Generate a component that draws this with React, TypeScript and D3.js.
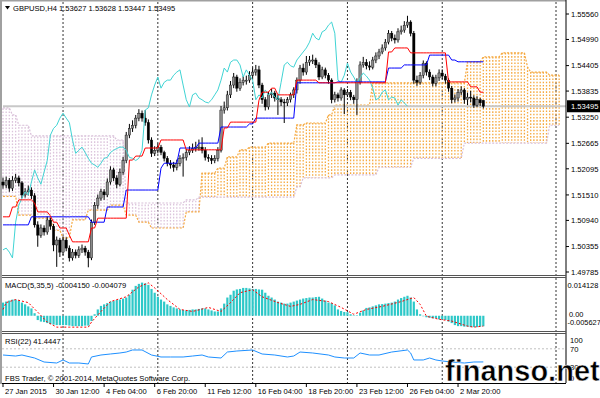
import * as d3 from 'd3';

// GBPUSD H4 candles [open, high, low, close], first bar = 27 Jan 2015 20:00
const candles: [number, number, number, number][] = [
  [1.5180, 1.5190, 1.5165, 1.5173], [1.5173, 1.5192, 1.5166, 1.5184], [1.5184, 1.5189, 1.5158, 1.5166],
  [1.5166, 1.5193, 1.5160, 1.5184], [1.5184, 1.5198, 1.5178, 1.5189], [1.5189, 1.5194, 1.5170, 1.5178],
  [1.5178, 1.5182, 1.5144, 1.5151], [1.5151, 1.5166, 1.5145, 1.5158], [1.5158, 1.5172, 1.5150, 1.5162],
  [1.5162, 1.5168, 1.5142, 1.5149], [1.5149, 1.5155, 1.5078, 1.5084], [1.5084, 1.5092, 1.5035, 1.5061],
  [1.5061, 1.5085, 1.5055, 1.5077], [1.5077, 1.5083, 1.5060, 1.5068], [1.5068, 1.5103, 1.5062, 1.5095],
  [1.5095, 1.5100, 1.5073, 1.5081], [1.5081, 1.5086, 1.5025, 1.5039], [1.5039, 1.5058, 1.4990, 1.5050],
  [1.5050, 1.5055, 1.5012, 1.5023], [1.5023, 1.5058, 1.5016, 1.5050], [1.5050, 1.5056, 1.5025, 1.5032],
  [1.5032, 1.5038, 1.5002, 1.5010], [1.5010, 1.5030, 1.5004, 1.5023], [1.5023, 1.5029, 1.5009, 1.5016],
  [1.5016, 1.5036, 1.5010, 1.5028], [1.5028, 1.5040, 1.5021, 1.5032], [1.5032, 1.5037, 1.5015, 1.5023],
  [1.5023, 1.5028, 1.4989, 1.5010], [1.5010, 1.5096, 1.5005, 1.5090], [1.5090, 1.5135, 1.5084, 1.5128],
  [1.5128, 1.5152, 1.5120, 1.5144], [1.5144, 1.5165, 1.5138, 1.5158], [1.5158, 1.5164, 1.5140, 1.5151],
  [1.5151, 1.5188, 1.5146, 1.5180], [1.5180, 1.5215, 1.5174, 1.5207], [1.5207, 1.5212, 1.5182, 1.5189],
  [1.5189, 1.5195, 1.5166, 1.5175], [1.5175, 1.5210, 1.5170, 1.5202], [1.5202, 1.5236, 1.5196, 1.5228],
  [1.5228, 1.5292, 1.5222, 1.5285], [1.5285, 1.5310, 1.5278, 1.5300], [1.5300, 1.5318, 1.5292, 1.5307],
  [1.5307, 1.5330, 1.5300, 1.5323], [1.5323, 1.5343, 1.5316, 1.5334], [1.5334, 1.5340, 1.5315, 1.5323],
  [1.5323, 1.5341, 1.5306, 1.5313], [1.5313, 1.5320, 1.5266, 1.5274], [1.5274, 1.5280, 1.5236, 1.5244],
  [1.5244, 1.5260, 1.5238, 1.5251], [1.5251, 1.5266, 1.5244, 1.5258], [1.5258, 1.5263, 1.5240, 1.5246],
  [1.5246, 1.5250, 1.5226, 1.5233], [1.5233, 1.5238, 1.5215, 1.5222], [1.5222, 1.5229, 1.5210, 1.5218],
  [1.5218, 1.5225, 1.5203, 1.5213], [1.5213, 1.5230, 1.5206, 1.5222], [1.5222, 1.5240, 1.5215, 1.5233],
  [1.5233, 1.5244, 1.5192, 1.5235], [1.5235, 1.5254, 1.5228, 1.5246], [1.5246, 1.5260, 1.5240, 1.5251],
  [1.5251, 1.5266, 1.5245, 1.5255], [1.5255, 1.5270, 1.5248, 1.5258], [1.5258, 1.5275, 1.5250, 1.5258],
  [1.5258, 1.5280, 1.5244, 1.5251], [1.5251, 1.5258, 1.5228, 1.5235], [1.5235, 1.5242, 1.5225, 1.5233],
  [1.5233, 1.5240, 1.5220, 1.5228], [1.5228, 1.5240, 1.5222, 1.5233], [1.5233, 1.5258, 1.5226, 1.5251],
  [1.5251, 1.5350, 1.5246, 1.5341], [1.5341, 1.5360, 1.5333, 1.5346], [1.5346, 1.5384, 1.5340, 1.5375],
  [1.5375, 1.5406, 1.5368, 1.5397], [1.5397, 1.5424, 1.5390, 1.5415], [1.5415, 1.5420, 1.5382, 1.5390],
  [1.5390, 1.5412, 1.5384, 1.5403], [1.5403, 1.5417, 1.5396, 1.5408], [1.5408, 1.5418, 1.5398, 1.5408],
  [1.5408, 1.5428, 1.5402, 1.5419], [1.5419, 1.5436, 1.5412, 1.5426], [1.5426, 1.5442, 1.5418, 1.5431],
  [1.5431, 1.5440, 1.5390, 1.5397], [1.5397, 1.5402, 1.5355, 1.5364], [1.5364, 1.5370, 1.5340, 1.5348],
  [1.5348, 1.5382, 1.5342, 1.5375], [1.5375, 1.5388, 1.5368, 1.5379], [1.5379, 1.5384, 1.5360, 1.5368],
  [1.5368, 1.5375, 1.5330, 1.5364], [1.5364, 1.5370, 1.5350, 1.5359], [1.5359, 1.5366, 1.5312, 1.5357],
  [1.5357, 1.5370, 1.5350, 1.5364], [1.5364, 1.5380, 1.5358, 1.5375], [1.5375, 1.5392, 1.5368, 1.5386],
  [1.5386, 1.5414, 1.5378, 1.5408], [1.5408, 1.5442, 1.5400, 1.5435], [1.5435, 1.5445, 1.5418, 1.5426],
  [1.5426, 1.5462, 1.5420, 1.5448], [1.5448, 1.5462, 1.5440, 1.5453], [1.5453, 1.5465, 1.5444, 1.5453],
  [1.5453, 1.5458, 1.5435, 1.5442], [1.5442, 1.5448, 1.5408, 1.5415], [1.5415, 1.5438, 1.5410, 1.5431],
  [1.5431, 1.5436, 1.5412, 1.5419], [1.5419, 1.5424, 1.5400, 1.5408], [1.5408, 1.5412, 1.5356, 1.5364],
  [1.5364, 1.5382, 1.5358, 1.5375], [1.5375, 1.5380, 1.5360, 1.5368], [1.5368, 1.5392, 1.5362, 1.5386],
  [1.5386, 1.5390, 1.5332, 1.5375], [1.5375, 1.5388, 1.5370, 1.5381], [1.5381, 1.5386, 1.5363, 1.5370],
  [1.5370, 1.5375, 1.5355, 1.5364], [1.5364, 1.5412, 1.5330, 1.5403], [1.5403, 1.5450, 1.5398, 1.5442],
  [1.5442, 1.5460, 1.5436, 1.5448], [1.5448, 1.5455, 1.5432, 1.5440], [1.5440, 1.5450, 1.5430, 1.5437],
  [1.5437, 1.5460, 1.5432, 1.5453], [1.5453, 1.5470, 1.5446, 1.5462], [1.5462, 1.5478, 1.5455, 1.5471],
  [1.5471, 1.5488, 1.5466, 1.5480], [1.5480, 1.5500, 1.5474, 1.5493], [1.5493, 1.5520, 1.5488, 1.5513],
  [1.5513, 1.5518, 1.5495, 1.5502], [1.5502, 1.5510, 1.5490, 1.5498], [1.5498, 1.5524, 1.5492, 1.5516],
  [1.5516, 1.5530, 1.5510, 1.5520], [1.5520, 1.5540, 1.5514, 1.5531], [1.5531, 1.5552, 1.5525, 1.5538],
  [1.5538, 1.5542, 1.5506, 1.5513], [1.5513, 1.5518, 1.5400, 1.5408], [1.5408, 1.5418, 1.5395, 1.5403],
  [1.5403, 1.5426, 1.5398, 1.5419], [1.5419, 1.5452, 1.5412, 1.5446], [1.5446, 1.5450, 1.5418, 1.5426],
  [1.5426, 1.5432, 1.5408, 1.5415], [1.5415, 1.5420, 1.5394, 1.5401], [1.5401, 1.5420, 1.5394, 1.5413],
  [1.5413, 1.5432, 1.5406, 1.5424], [1.5424, 1.5432, 1.5410, 1.5417], [1.5417, 1.5422, 1.5400, 1.5408],
  [1.5408, 1.5412, 1.5382, 1.5390], [1.5390, 1.5395, 1.5356, 1.5364], [1.5364, 1.5376, 1.5358, 1.5368],
  [1.5368, 1.5388, 1.5360, 1.5381], [1.5381, 1.5394, 1.5374, 1.5386], [1.5386, 1.5390, 1.5355, 1.5364],
  [1.5364, 1.5380, 1.5352, 1.5370], [1.5370, 1.5384, 1.5358, 1.5368], [1.5368, 1.5374, 1.5346, 1.5352],
  [1.5352, 1.5372, 1.5348, 1.5364], [1.5364, 1.5368, 1.5350, 1.5357], [1.53627, 1.53628, 1.53447, 1.53495],
];

// Ichimoku lines as steps: bar where the level starts, and the level
const tenkanFrom = [0, 3, 5, 10, 11, 15, 16, 18, 21, 22, 28, 30, 40, 42, 45, 50, 58, 70, 72, 81, 82, 85, 87, 93, 100, 122, 124, 129, 141, 148, 151];
const tenkanVal = [1.5102, 1.5124, 1.5140, 1.5133, 1.5113, 1.5104, 1.5090, 1.5077, 1.5061, 1.5046, 1.5077, 1.5099, 1.5229, 1.5238, 1.5256, 1.5274, 1.5252, 1.5301, 1.5314, 1.5363, 1.5381, 1.5390, 1.5375, 1.5408, 1.5402, 1.5471, 1.5480, 1.5469, 1.5404, 1.5393, 1.5381];
const kijunFrom = [0, 9, 28, 33, 39, 50, 51, 56, 62, 69, 78, 80, 93, 106, 122, 127, 135, 142, 144];
const kijunVal = [1.5084, 1.5102, 1.5090, 1.5124, 1.5162, 1.5211, 1.5222, 1.5256, 1.5267, 1.5303, 1.5310, 1.5323, 1.5402, 1.5404, 1.5435, 1.5442, 1.5464, 1.5453, 1.5449];
// Senkou spans, already in their displayed (shifted) bar positions
const spanAFrom = [0, 5, 10, 16, 19, 22, 27, 34, 39, 43, 47, 58, 63, 68, 71, 75, 78, 84, 93, 96, 103, 105, 117, 147, 152, 158, 166, 167, 173];
const spanAVal = [1.5148, 1.5106, 1.5099, 1.5072, 1.5055, 1.5095, 1.5117, 1.5128, 1.5106, 1.5090, 1.5077, 1.5113, 1.5200, 1.5211, 1.5236, 1.5252, 1.5258, 1.5267, 1.5308, 1.5312, 1.5330, 1.5352, 1.5402, 1.5449, 1.5460, 1.5469, 1.5437, 1.5426, 1.5419];
const spanBFrom = [0, 3, 5, 9, 36, 39, 58, 62, 93, 95, 105, 119, 130, 146, 173];
const spanBVal = [1.5346, 1.5330, 1.5307, 1.5283, 1.5274, 1.5133, 1.5140, 1.5146, 1.5169, 1.5189, 1.5196, 1.5213, 1.5233, 1.5267, 1.5307];
const SHIFT = 24;
const CLOUD_END = 176;

const macdHist = [
  0.0052, 0.0056, 0.0060, 0.0064, 0.0064, 0.0060, 0.0052, 0.0045, 0.0037, 0.0029,
  0.0010, -0.0017, -0.0023, -0.0025, -0.0029, -0.0033, -0.0035, -0.0037, -0.0037, -0.0037,
  -0.0037, -0.0039, -0.0041, -0.0041, -0.0041, -0.0041, -0.0039, -0.0039, -0.0021, 0.0006,
  0.0025, 0.0039, 0.0045, 0.0050, 0.0056, 0.0058, 0.0062, 0.0064, 0.0068, 0.0072,
  0.0083, 0.0103, 0.0118, 0.0126, 0.0131, 0.0128, 0.0122, 0.0106, 0.0091, 0.0075,
  0.0064, 0.0056, 0.0045, 0.0039, 0.0033, 0.0029, 0.0025, 0.0023, 0.0021, 0.0023,
  0.0025, 0.0025, 0.0027, 0.0029, 0.0029, 0.0025, 0.0021, 0.0017, 0.0017, 0.0029,
  0.0048, 0.0072, 0.0083, 0.0099, 0.0104, 0.0106, 0.0110, 0.0110, 0.0108, 0.0106,
  0.0106, 0.0104, 0.0103, 0.0091, 0.0079, 0.0072, 0.0064, 0.0056, 0.0052, 0.0048,
  0.0048, 0.0052, 0.0056, 0.0060, 0.0064, 0.0068, 0.0070, 0.0072, 0.0072, 0.0074,
  0.0075, 0.0068, 0.0060, 0.0052, 0.0050, 0.0041, 0.0025, 0.0019, 0.0015, 0.0014,
  0.0006, 0.0002, 0.0002, 0.0012, 0.0021, 0.0031, 0.0033, 0.0037, 0.0041, 0.0045,
  0.0046, 0.0048, 0.0050, 0.0052, 0.0056, 0.0064, 0.0070, 0.0075, 0.0079, 0.0072,
  0.0056, 0.0025, 0.0006, -0.0002, -0.0006, -0.0008, -0.0010, -0.0010, -0.0014, -0.0014,
  -0.0017, -0.0023, -0.0029, -0.0037, -0.0041, -0.0041, -0.0043, -0.0043, -0.0045, -0.0045,
  -0.0045, -0.0043, -0.00415,
];
const signalBar = [0, 1, 4, 8, 11, 14, 17, 21, 27, 28, 31, 34, 39, 43, 46, 48, 52, 56, 60, 65, 69, 72, 75, 79, 82, 87, 91, 94, 98, 103, 107, 111, 115, 120, 126, 130, 132, 134, 138, 142, 147, 149, 152];
const signalVal = [0.0025, 0.0052, 0.0064, 0.0052, 0.0014, -0.0025, -0.0045, -0.0045, -0.0045, -0.0025, 0.0017, 0.0056, 0.0075, 0.0114, 0.0130, 0.0110, 0.0064, 0.0025, 0.0017, 0.0033, 0.0017, 0.0052, 0.0091, 0.0103, 0.0075, 0.0052, 0.0037, 0.0045, 0.0064, 0.0056, 0.0033, 0.0006, 0.0025, 0.0037, 0.0056, 0.0072, 0.0045, -0.0002, -0.0014, -0.0021, -0.0041, -0.0045, -0.004079];

const rsiBar = [0, 4, 6, 10, 13, 17, 19, 21, 24, 27, 28, 31, 34, 37, 39, 41, 44, 47, 50, 53, 57, 60, 63, 65, 69, 71, 74, 79, 82, 86, 90, 92, 94, 98, 103, 105, 108, 111, 113, 116, 119, 123, 128, 129, 130, 133, 135, 137, 139, 142, 146, 149, 152];
const rsiVal = [56.5, 54.3, 56.5, 50, 41.3, 39.1, 45.7, 39.1, 39.1, 37, 52.2, 56.5, 58.7, 60.9, 63, 67.4, 67.4, 56.5, 52.2, 52.2, 52.2, 54.3, 56.5, 52.2, 50, 63, 65.2, 67.4, 58.7, 56.5, 52.2, 54.3, 63, 60.9, 56.5, 52.2, 50, 50, 60.9, 56.5, 56.5, 63, 67.4, 60.9, 45.7, 45.7, 50, 45.7, 43.5, 41.3, 39.1, 41.3, 41.4447];

const priceTicks = [1.55560, 1.54990, 1.54405, 1.53835, 1.53250, 1.52665, 1.52095, 1.51510, 1.50940, 1.50355, 1.49785];
const timeLabels = ['27 Jan 2015', '30 Jan 12:00', '4 Feb 04:00', '6 Feb 20:00', '11 Feb 12:00', '16 Feb 04:00', '18 Feb 20:00', '23 Feb 12:00', '26 Feb 04:00', '2 Mar 20:00'];
const LABEL_STEP = 16;
const gridBars = [19, 49, 79, 109, 139, 175];
const macdMax = 0.014128, macdMin = -0.005627;
const bid = 1.53495;

const W = 600, H = 398;
const RIGHT = 566;
const FONT = "'Liberation Sans', Arial, sans-serif";

const x = d3.scaleLinear().domain([0, 100]).range([3, 3 + 316]);
const y = d3.scaleLinear().domain([1.49785, 1.5556]).range([272, 14]);
const yM = d3.scaleLinear().domain([macdMin, macdMax]).range([330, 280]);
const yR = d3.scaleLinear().domain([0, 100]).range([381, 335]);

function expand(from: number[], val: number[], end: number): [number, number][] {
  const out: [number, number][] = [];
  let k = 0;
  for (let i = from[0]; i <= end; i++) {
    while (k + 1 < from.length && from[k + 1] <= i) k++;
    out.push([i, val[k]]);
  }
  return out;
}

export default function App() {
  const last = candles.length - 1;
  const tenkan = expand(tenkanFrom, tenkanVal, last);
  const kijun = expand(kijunFrom, kijunVal, last);
  const spanA = expand(spanAFrom, spanAVal, CLOUD_END);
  const spanB = expand(spanBFrom, spanBVal, CLOUD_END);
  const chikou: [number, number][] = candles.slice(SHIFT).map((c, i) => [i, c[3]]);

  const priceLine = d3.line<[number, number]>().x(d => x(d[0])).y(d => y(d[1]));
  const sigLine = d3.line<number>().x((_, i) => x(signalBar[i])).y(d => yM(d));
  const rsiLine = d3.line<number>().x((_, i) => x(rsiBar[i])).y(d => yR(d));

  return (
    <svg width={W} height={H} style={{ position: 'absolute', left: 0, top: 0, background: '#fff' }} fontFamily={FONT}>
      {/* window frame */}
      <rect x={0} y={0} width={2} height={384} fill="#a0a0a0" />
      <rect x={0} y={0} width={RIGHT} height={1.5} fill="#a0a0a0" />

      {/* vertical grid */}
      {gridBars.map(b => (
        <line key={b} x1={x(b)} x2={x(b)} y1={2} y2={383} stroke="#333" strokeWidth={1} strokeDasharray="2,2" />
      ))}

      {/* cloud */}
      {spanA.map((a, i) => {
        const b = spanB[i][1];
        return (
          <line key={'c' + i} x1={x(a[0])} x2={x(a[0])} y1={y(a[1])} y2={y(b)}
            stroke={a[1] >= b ? '#f5a940' : '#dcc4dc'} strokeWidth={1.3} strokeDasharray="1.6,1.6" />
        );
      })}
      <path d={priceLine(spanA) ?? ''} fill="none" stroke="#f5a940" strokeWidth={1.2} strokeDasharray="2,1.5" />
      <path d={priceLine(spanB) ?? ''} fill="none" stroke="#d8bfd8" strokeWidth={1.2} strokeDasharray="2,1.5" />

      {/* bid line */}
      <line x1={3} x2={RIGHT} y1={y(bid)} y2={y(bid)} stroke="#c8c8c8" strokeWidth={2} />

      {/* candles */}
      {candles.map((c, i) => {
        const [o, h, l, cl] = c;
        const up = cl >= o;
        const top = y(Math.max(o, cl));
        const bh = Math.max(1, y(Math.min(o, cl)) - top);
        return (
          <g key={'k' + i}>
            <line x1={x(i)} x2={x(i)} y1={y(h)} y2={y(l)} stroke="#000" strokeWidth={1} />
            <rect x={x(i) - 1.2} y={top} width={2.4} height={bh} fill={up ? '#8a8a8a' : '#000'} stroke="#000" strokeWidth={0.4} />
          </g>
        );
      })}

      {/* ichimoku lines */}
      <path d={priceLine(chikou) ?? ''} fill="none" stroke="#40d4d4" strokeWidth={1} />
      <path d={priceLine(kijun) ?? ''} fill="none" stroke="#0000ff" strokeWidth={1} />
      <path d={priceLine(tenkan) ?? ''} fill="none" stroke="#ff0000" strokeWidth={1} />

      {/* header */}
      <path d="M5,6 L10,6 L7.5,9.5 Z" fill="#000" />
      <text x={13} y={11} fontSize={7.6} fill="#000">GBPUSD,H4 1.53627 1.53628 1.53447 1.53495</text>

      {/* price axis */}
      <line x1={RIGHT} x2={RIGHT} y1={0} y2={383} stroke="#000" strokeWidth={1} />
      {priceTicks.map(p => (
        <g key={p}>
          <line x1={RIGHT} x2={RIGHT + 3} y1={y(p)} y2={y(p)} stroke="#000" />
          <text x={571} y={y(p) + 2.8} fontSize={7.6} fill="#000">{p.toFixed(5)}</text>
        </g>
      ))}
      <rect x={567} y={y(bid) - 6} width={33} height={12} fill="#000" />
      <text x={571} y={y(bid) + 2.8} fontSize={7.6} fill="#fff">{bid.toFixed(5)}</text>

      {/* panel separators */}
      {[275.5, 277.5, 331.5, 333.5].map(v => (
        <line key={v} x1={2} x2={RIGHT} y1={v} y2={v} stroke="#555" strokeWidth={1} />
      ))}

      {/* MACD */}
      {macdHist.map((v, i) => (
        <rect key={'m' + i} x={x(i) - 1.1} width={2.2} y={Math.min(yM(v), yM(0))} height={Math.abs(yM(v) - yM(0))} fill="#2ec8c8" />
      ))}
      <path d={sigLine(signalVal) ?? ''} fill="none" stroke="#ff0000" strokeWidth={1} strokeDasharray="2,2" />
      <text x={5} y={288} fontSize={7.6} fill="#000">MACD(5,35,5) -0.004150 -0.004079</text>
      <text x={567.5} y={yM(macdMax) + 7.5} fontSize={7.4} fill="#000">{macdMax.toFixed(6)}</text>
      <text x={569} y={yM(0) + 1.5} fontSize={7.4} fill="#000">0.00</text>
      <text x={567.5} y={yM(0) + 9} fontSize={7.4} fill="#000">{macdMin.toFixed(6)}</text>

      {/* RSI */}
      {[70, 30].map(v => (
        <line key={v} x1={2} x2={RIGHT} y1={yR(v)} y2={yR(v)} stroke="#c0c0c0" strokeDasharray="2,2" />
      ))}
      <path d={rsiLine(rsiVal) ?? ''} fill="none" stroke="#1e90ff" strokeWidth={1} />
      <text x={5} y={344} fontSize={7.6} fill="#000">RSI(22) 41.4447</text>
      <text x={5} y={381} fontSize={7.6} fill="#000">FBS Trader, © 2001-2014, MetaQuotes Software Corp.</text>
      {[100, 70, 30, 0].map(v => (
        <text key={v} x={570} y={v === 100 ? yR(v) + 7.5 : v === 0 ? yR(v) - 0.5 : yR(v) + 2.8} fontSize={7.6} fill="#000">{v}</text>
      ))}

      {/* time axis */}
      <line x1={2} x2={RIGHT} y1={383.5} y2={383.5} stroke="#000" />
      {timeLabels.map((t, i) => (
        <g key={t}>
          <line x1={x(i * LABEL_STEP)} x2={x(i * LABEL_STEP)} y1={383} y2={387} stroke="#000" />
          <text x={x(i * LABEL_STEP) + 2} y={393.5} fontSize={7.6} fill="#000">{t}</text>
        </g>
      ))}

      {/* watermark */}
      <text x={445} y={381} fontSize={29} fontWeight="bold" fill="#000" stroke="#fff" strokeWidth={0.5}>finanso.net</text>
    </svg>
  );
}
